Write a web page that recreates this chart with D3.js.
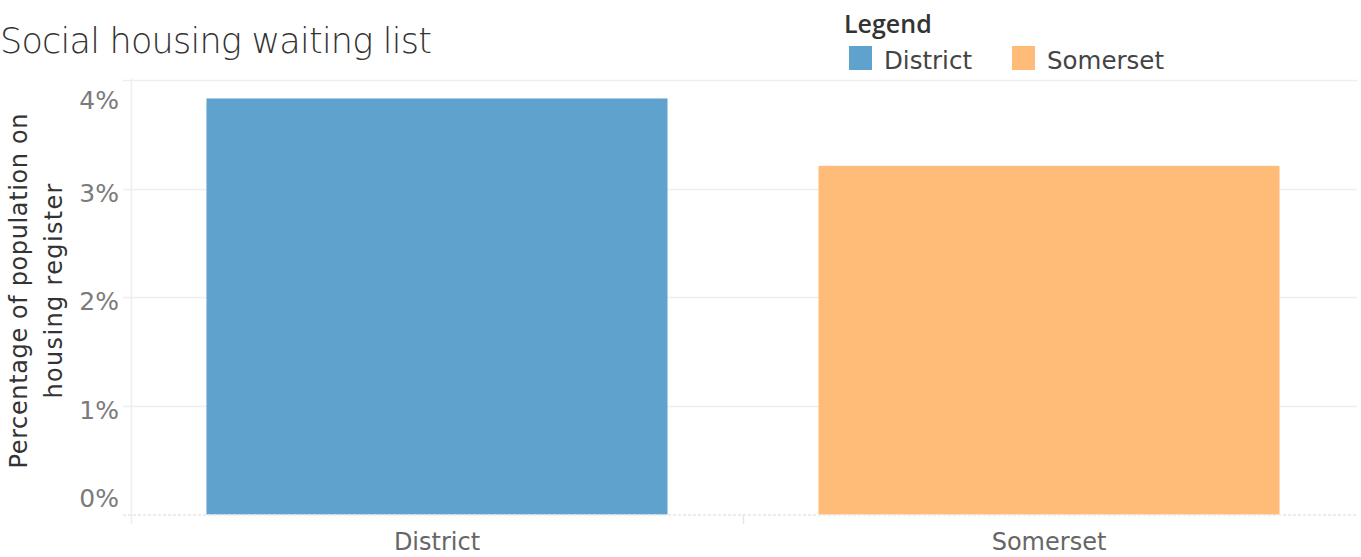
<!DOCTYPE html>
<html>
<head>
<meta charset="utf-8">
<script src="https://cdn.jsdelivr.net/npm/d3@7"></script>
<style>
  html, body { margin: 0; padding: 0; background: #fff; }
  svg { display: block; }
  text { font-family: "DejaVu Sans", "Open Sans", sans-serif; }
</style>
</head>
<body>
<svg id="chart" width="1361" height="557"></svg>
<script>
const categories = ["District", "Somerset"];
const values = [3.83, 3.21];
const colors = ["#5fa2ce", "#ffbc79"];
const yTicks = [0, 1, 2, 3, 4];
const titleText = "Social housing waiting list";
const yTitleLines = ["Percentage of population on", "housing register"];
const legendTitle = "Legend";

const svg = d3.select("#chart");
const x = d3.scaleBand().domain(categories).range([131, 1355]).paddingInner(0.2467).paddingOuter(0.1233);
const y = d3.scaleLinear().domain([0, 4]).range([514.5, 80]);

// gridlines
svg.append("g").selectAll("line").data(yTicks.filter(d => d > 0)).join("line")
  .attr("x1", 123).attr("x2", 1357)
  .attr("y1", d => Math.round(y(d)) + 0.5).attr("y2", d => Math.round(y(d)) + 0.5)
  .attr("stroke", "#eeeeee").attr("stroke-width", 1.5);

// vertical axis line
svg.append("line").attr("x1", 131.5).attr("x2", 131.5).attr("y1", 78).attr("y2", 524)
  .attr("stroke", "#eeeeee").attr("stroke-width", 1.5);

// bars
svg.append("g").selectAll("rect").data(categories).join("rect")
  .attr("x", d => x(d)).attr("width", x.bandwidth())
  .attr("y", (d, i) => y(values[i])).attr("height", (d, i) => y(0) - y(values[i]))
  .attr("fill", (d, i) => colors[i]);

// zero line (dashed)
svg.append("line").attr("x1", 123).attr("x2", 1357).attr("y1", 515).attr("y2", 515)
  .attr("stroke", "#e6e6e6").attr("stroke-width", 1.5).attr("stroke-dasharray", "3,2");

// category divider tick
svg.append("line").attr("x1", 743.5).attr("x2", 743.5).attr("y1", 514).attr("y2", 524)
  .attr("stroke", "#e6e6e6").attr("stroke-width", 1.5);

// y tick labels
const yOffset = {0: -7.5, 4: 29};
svg.append("g").selectAll("text").data(yTicks).join("text")
  .attr("x", 119).attr("y", d => y(d) + (d in yOffset ? yOffset[d] : 13))
  .attr("text-anchor", "end").attr("font-size", 25).attr("fill", "#7b7b7b")
  .text(d => d + "%");

// category labels
svg.append("g").selectAll("text").data(categories).join("text")
  .attr("x", d => x(d) + x.bandwidth() / 2).attr("y", 549.5)
  .attr("text-anchor", "middle").attr("font-size", 24).attr("fill", "#666")
  .text(d => d);

// title
svg.append("text").attr("x", 0).attr("y", 53).attr("font-size", 35).attr("font-weight", 300)
  .attr("textLength", 432).attr("lengthAdjust", "spacing")
  .attr("fill", "#333").text(titleText);

// y axis title
const yt = svg.append("text").attr("transform", "translate(0,291) rotate(-90)")
  .attr("text-anchor", "middle").attr("font-size", 24).attr("fill", "#333");
yt.append("tspan").attr("x", 0).attr("y", 27).attr("textLength", 355).attr("lengthAdjust", "spacing").text(yTitleLines[0]);
yt.append("tspan").attr("x", 0).attr("y", 62).attr("textLength", 215).attr("lengthAdjust", "spacing").text(yTitleLines[1]);

// legend
svg.append("text").attr("x", 844).attr("y", 33).attr("font-size", 25).attr("font-weight", 600)
  .style("font-family", "'Open Sans', sans-serif")
  .attr("fill", "#333").text(legendTitle);
const legendX = [849, 1012];
const lg = svg.append("g").selectAll("g").data(categories).join("g")
  .attr("transform", (d, i) => `translate(${legendX[i]},46)`);
lg.append("rect").attr("width", 23).attr("height", 24).attr("fill", (d, i) => colors[i]);
lg.append("text").attr("x", 35).attr("y", 23).attr("font-size", 24.5).attr("fill", "#444").text(d => d);
</script>
</body>
</html>
